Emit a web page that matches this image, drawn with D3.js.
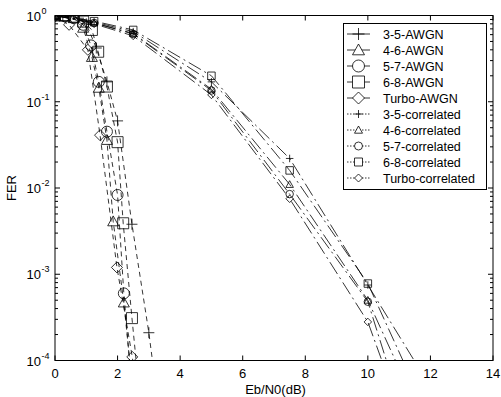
<!DOCTYPE html>
<html>
<head>
<meta charset="utf-8">
<style>
  body { margin: 0; background: #fff; }
  text { font-family: "Liberation Sans", Arial, sans-serif; fill: #000; }
</style>
</head>
<body>
<svg id="chart" width="501" height="397" viewBox="0 0 501 397" xmlns="http://www.w3.org/2000/svg"></svg>
<script src="https://d3js.org/d3.v7.min.js"></script>
<script>
// series names, in legend order
const names = ["3-5-AWGN", "4-6-AWGN", "5-7-AWGN", "6-8-AWGN", "Turbo-AWGN",
  "3-5-correlated", "4-6-correlated", "5-7-correlated", "6-8-correlated", "Turbo-correlated"];

// [Eb/N0 (dB), FER]
const awgn35 = [[0, 1], [0.25, 1], [0.5, 0.98], [0.75, 0.93], [1.0, 0.8], [1.32, 0.42], [1.66, 0.17], [2.0, 0.06], [2.46, 0.0038], [3.0, 0.00021], [3.3, 0.00003]];
const awgn46 = [[0, 1], [0.3, 0.98], [0.6, 0.93], [0.9, 0.72], [1.18, 0.33], [1.4, 0.145], [1.66, 0.036], [1.86, 0.0041], [2.2, 0.00047], [2.45, 0.00006]];
const awgn57 = [[0, 1], [0.3, 0.98], [0.6, 0.93], [0.9, 0.78], [1.15, 0.45], [1.4, 0.17], [1.66, 0.045], [2.0, 0.0083], [2.2, 0.0006], [2.45, 0.00005]];
const awgn68 = [[0, 1], [0.3, 1], [0.6, 0.97], [0.9, 0.85], [1.18, 0.68], [1.38, 0.38], [1.66, 0.15], [2.0, 0.034], [2.18, 0.0039], [2.46, 0.00031], [2.7, 0.00004]];
const awgnTurbo = [[0, 0.98], [0.45, 0.78], [1.05, 0.4], [1.44, 0.041], [1.98, 0.0012], [2.47, 0.00011], [2.6, 0.00005]];

const corr35 = [[0, 1], [1.25, 0.84], [2.5, 0.65], [5, 0.17], [7.5, 0.022], [10, 0.00075], [12.5, 0.000025]];
const corr46 = [[0, 1], [1.25, 0.82], [2.5, 0.62], [5, 0.14], [7.5, 0.011], [10, 0.0005], [12, 0.000013]];
const corr57 = [[0, 1], [1.25, 0.82], [2.5, 0.61], [5, 0.135], [7.5, 0.0085], [10, 0.00048], [11.5, 0.000009]];
const corr68 = [[0, 1], [1.25, 0.86], [2.5, 0.68], [5, 0.2], [7.5, 0.016], [10, 0.00078], [12, 0.00002]];
const corrTurbo = [[0, 1], [1.25, 0.8], [2.5, 0.58], [5, 0.12], [7.5, 0.0075], [10, 0.00028], [11, 0.000028]];

const seriesData = [awgn35, awgn46, awgn57, awgn68, awgnTurbo, corr35, corr46, corr57, corr68, corrTurbo];
const shapes = ["plus", "triangle", "circle", "square", "diamond", "plus", "triangle", "circle", "square", "diamond"];

const xTicks = [0, 2, 4, 6, 8, 10, 12, 14];
const yTicks = [1e-4, 1e-3, 1e-2, 1e-1, 1];
const yExp = ["-4", "-3", "-2", "-1", "0"];

const svg = d3.select("#chart");
const plotL = 55, plotR = 493, plotT = 15.5, plotB = 360.5;

const x = d3.scaleLinear().domain([0, 14]).range([plotL, plotR]);
const y = d3.scaleLog().domain([1e-4, 1]).range([plotB, plotT]);

svg.append("defs").append("clipPath").attr("id", "plotclip")
  .append("rect")
  .attr("x", plotL).attr("y", plotT)
  .attr("width", plotR - plotL).attr("height", plotB - plotT);

// marker path builder
function marker(shape, s) {
  const h = s / 2;
  if (shape === "plus") return `M${-h},0H${h}M0,${-h}V${h}`;
  if (shape === "triangle") return `M0,${-h}L${h},${h * 0.8}L${-h},${h * 0.8}Z`;
  if (shape === "square") return `M${-h},${-h}H${h}V${h}H${-h}Z`;
  if (shape === "diamond") return `M0,${-h}L${h},0L0,${h}L${-h},0Z`;
  return `M${h},0A${h},${h} 0 1,1 ${-h},0A${h},${h} 0 1,1 ${h},0Z`;
}

// frame
svg.append("rect")
  .attr("x", plotL).attr("y", plotT)
  .attr("width", plotR - plotL).attr("height", plotB - plotT)
  .attr("fill", "none").attr("stroke", "#000").attr("stroke-width", 1);

// x ticks
xTicks.forEach(t => {
  const px = x(t);
  svg.append("line").attr("x1", px).attr("x2", px).attr("y1", plotB).attr("y2", plotB - 5)
    .attr("stroke", "#000");
  svg.append("line").attr("x1", px).attr("x2", px).attr("y1", plotT).attr("y2", plotT + 5)
    .attr("stroke", "#000");
  svg.append("text")
    .attr("x", px).attr("y", 378)
    .attr("text-anchor", "middle")
    .attr("font-size", "13px")
    .text(t);
});

// y ticks (major + minor)
yTicks.forEach((t, i) => {
  const py = y(t);
  svg.append("line").attr("x1", plotL).attr("x2", plotL + 5).attr("y1", py).attr("y2", py).attr("stroke", "#000");
  svg.append("line").attr("x1", plotR).attr("x2", plotR - 5).attr("y1", py).attr("y2", py).attr("stroke", "#000");
  svg.append("text")
    .attr("x", 41).attr("y", py + 5)
    .attr("text-anchor", "end")
    .attr("font-size", "13px")
    .text("10");
  svg.append("text")
    .attr("x", 41.5).attr("y", py - 2)
    .attr("font-size", "9px")
    .text(yExp[i]);
  if (t < 1) {
    d3.range(2, 10).forEach(m => {
      const pm = y(t * m);
      svg.append("line").attr("x1", plotL).attr("x2", plotL + 3).attr("y1", pm).attr("y2", pm).attr("stroke", "#000");
      svg.append("line").attr("x1", plotR).attr("x2", plotR - 3).attr("y1", pm).attr("y2", pm).attr("stroke", "#000");
    });
  }
});

// axis labels
svg.append("text")
  .attr("x", x(7.05)).attr("y", 394)
  .attr("text-anchor", "middle")
  .attr("font-size", "13px")
  .text("Eb/N0(dB)");

svg.append("text")
  .attr("transform", "translate(16,188) rotate(-90)")
  .attr("text-anchor", "middle")
  .attr("font-size", "13px")
  .text("FER");

// curves
const line = d3.line().x(d => x(d[0])).y(d => y(d[1]));
const plot = svg.append("g").attr("clip-path", "url(#plotclip)");

seriesData.forEach((data, i) => {
  const isAwgn = i < 5;
  plot.append("path")
    .attr("d", line(data))
    .attr("fill", "none")
    .attr("stroke", "#000")
    .attr("stroke-width", 0.8)
    .attr("stroke-dasharray", isAwgn ? "5,4" : "14,4,2,4");
  plot.selectAll(null)
    .data(data.filter(d => d[1] >= 1e-4))
    .join("path")
    .attr("transform", d => `translate(${x(d[0])},${y(d[1])})`)
    .attr("d", marker(shapes[i], isAwgn ? 11 : 7.5))
    .attr("fill", "none")
    .attr("stroke", "#000")
    .attr("stroke-width", 0.8);
});

// legend
const lg = svg.append("g");
lg.append("rect")
  .attr("x", 343.5).attr("y", 23.5)
  .attr("width", 143).attr("height", 166)
  .attr("fill", "#fff").attr("stroke", "#000");

names.forEach((name, i) => {
  const ly = 34 + i * 16;
  const isAwgn = i < 5;
  lg.append("line")
    .attr("x1", 347).attr("x2", 370)
    .attr("y1", ly).attr("y2", ly)
    .attr("stroke", "#000")
    .attr("stroke-width", 0.8)
    .attr("stroke-dasharray", isAwgn ? null : "1.5,1.5");
  lg.append("path")
    .attr("transform", `translate(358.5,${ly})`)
    .attr("d", marker(shapes[i], isAwgn ? 12 : 8))
    .attr("fill", "#fff")
    .attr("stroke", "#000")
    .attr("stroke-width", 0.8);
  lg.append("text")
    .attr("x", 383).attr("y", ly + 4.5)
    .attr("font-size", "12.5px")
    .text(name);
});
</script>
</body>
</html>
